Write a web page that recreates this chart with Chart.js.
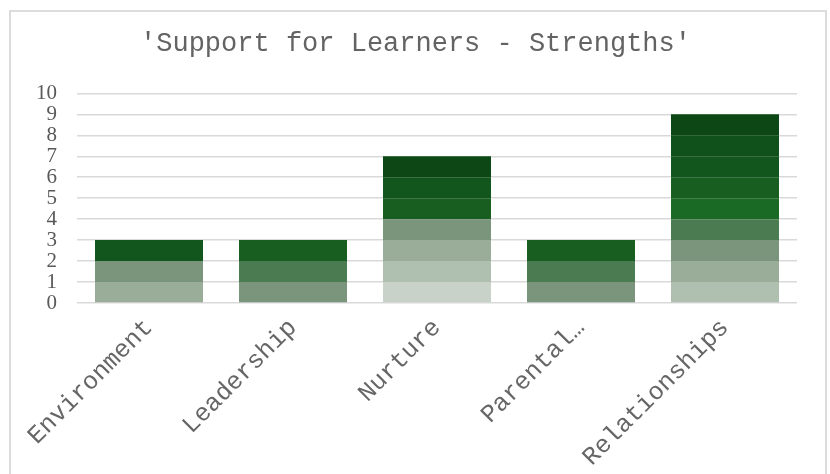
<!DOCTYPE html>
<html>
<head>
<meta charset="utf-8">
<script src="https://cdn.jsdelivr.net/npm/chart.js@4.4.0/dist/chart.umd.min.js"></script>
<style>
    html, body { margin: 0; padding: 0; background: #fff; }
    #wrap { position: relative; width: 830px; height: 474px; }
    #frame { position: absolute; left: 9px; top: 10px; width: 814px; height: 480px; border: 2px solid #dcdcdc; pointer-events: none; }
</style>
</head>
<body>
<div id="wrap">
    <canvas id="chart" width="830" height="474"></canvas>
    <div id="frame"></div>
</div>
<script>
// categories and per-level counts (each level adds one block to a bar)
const categories = ['Environment', 'Leadership', 'Nurture', 'Parental…', 'Relationships'];
const level1 = [0, 0, 1, 0, 0];
const level2 = [0, 0, 1, 0, 1];
const level3 = [1, 0, 1, 0, 1];
const level4 = [1, 1, 1, 1, 1];
const level5 = [0, 1, 0, 1, 1];
const level6 = [0, 0, 0, 0, 1];
const level7 = [0, 1, 1, 1, 1];
const level8 = [1, 0, 1, 0, 1];
const level9 = [0, 0, 0, 0, 1];
const level10 = [0, 0, 1, 0, 1];
const yTicks = [0, 1, 2, 3, 4, 5, 6, 7, 8, 9, 10];

const levels = [level1, level2, level3, level4, level5, level6, level7, level8, level9, level10];
const shades = ['#c8d2c8', '#b0c0b0', '#99ad98', '#7a957b', '#4b7b50',
                '#1a6a25', '#185e21', '#13561d', '#10501a', '#0d4715'];

new Chart(document.getElementById('chart'), {
    type: 'bar',
    data: {
        labels: categories,
        datasets: levels.map(function (vals, i) {
            return {
                label: 'Level ' + (i + 1),
                data: vals,
                backgroundColor: shades[i],
                borderWidth: 0,
                barPercentage: 0.75,
                categoryPercentage: 1
            };
        })
    },
    options: {
        responsive: false,
        animation: false,
        layout: { padding: { left: 34, right: 33, top: 0, bottom: 0 } },
        scales: {
            x: {
                stacked: true,
                grid: { display: false },
                border: { display: false },
                ticks: {
                    color: '#666666',
                    font: { family: 'Liberation Mono', size: 25 },
                    maxRotation: 45,
                    minRotation: 45,
                    autoSkip: false,
                    padding: 2
                },
                afterFit: function (scale) { scale.height = 171; }
            },
            y: {
                stacked: true,
                min: 0,
                max: 10,
                afterBuildTicks: function (scale) {
                    scale.ticks = yTicks.map(function (v) { return { value: v }; });
                },
                grid: { color: '#d9d9d9', lineWidth: 1.5, drawTicks: false },
                border: { display: false },
                ticks: {
                    color: '#595959',
                    font: { family: 'Liberation Serif', size: 21 },
                    autoSkip: false,
                    padding: 20
                },
                afterFit: function (scale) { scale.width = 43; }
            }
        },
        plugins: {
            legend: { display: false },
            tooltip: { enabled: false },
            title: {
                display: true,
                text: "'Support for Learners - Strengths'",
                color: '#636363',
                font: { family: 'Liberation Mono', size: 27, weight: 'normal' },
                padding: { top: 28, bottom: 33 }
            }
        }
    }
});
</script>
</body>
</html>
